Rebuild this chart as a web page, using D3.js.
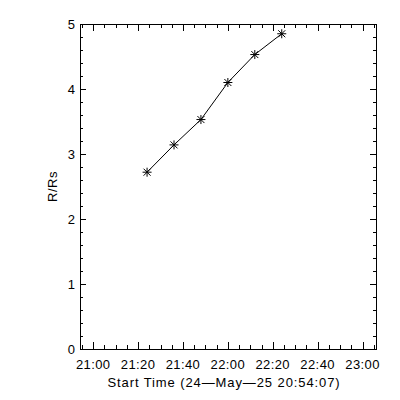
<!DOCTYPE html>
<html>
<head>
<meta charset="utf-8">
<script src="https://cdn.jsdelivr.net/npm/d3@7"></script>
<style>
  body { margin: 0; background: white; }
  text { font-family: "Liberation Sans", sans-serif; font-size: 13px; fill: black; }
</style>
</head>
<body>
<script>
// data
const times = ["21:24:00", "21:36:00", "21:48:00", "22:00:00", "22:12:00", "22:24:00"];
const heights = [2.72, 3.14, 3.53, 4.10, 4.53, 4.85];
const yTicks = [0, 1, 2, 3, 4, 5];
const xTickLabels = ["21:00", "21:20", "21:40", "22:00", "22:20", "22:40", "23:00"];
const startTime = "20:54:07";
const endTime = "23:06:00";

const w = 400, h = 400;
const padL = 80, padR = 376, padT = 24, padB = 349;
const parse = d3.timeParse("%H:%M:%S");

const svg = d3.select("body").append("svg")
    .attr("width", w)
    .attr("height", h)
    .style("background-color", "white");

const xScale = d3.scaleTime()
    .domain([parse(startTime), parse(endTime)])
    .range([padL, padR]);
const yScale = d3.scaleLinear()
    .domain([0, 5])
    .range([padB, padT]);

const majorX = xTickLabels.map(s => d3.timeParse("%H:%M")(s));
const minorX = d3.timeMinute.every(5).range(parse(startTime), parse(endTime))
    .filter(d => d.getMinutes() % 20 != 0);
const minorY = d3.range(0, 5.01, 0.2).filter(v => Math.abs(v - Math.round(v)) > 0.01);

// frame
svg.append("rect")
   .attr("x", padL + 0.5).attr("y", padT + 0.5)
   .attr("width", padR - padL).attr("height", padB - padT)
   .attr("fill", "none").attr("stroke", "black")
   .attr("shape-rendering", "crispEdges");

const ticks = svg.append("g").attr("stroke", "black").attr("shape-rendering", "crispEdges");
// x ticks, bottom and top
majorX.forEach(d => {
    const x = Math.round(xScale(d)) + 0.5;
    ticks.append("line").attr("x1", x).attr("x2", x).attr("y1", padB).attr("y2", padB - 7);
    ticks.append("line").attr("x1", x).attr("x2", x).attr("y1", padT).attr("y2", padT + 7);
});
minorX.forEach(d => {
    const x = Math.round(xScale(d)) + 0.5;
    ticks.append("line").attr("x1", x).attr("x2", x).attr("y1", padB).attr("y2", padB - 4);
    ticks.append("line").attr("x1", x).attr("x2", x).attr("y1", padT).attr("y2", padT + 4);
});
// y ticks, left and right
yTicks.forEach(v => {
    const y = Math.round(yScale(v)) + 0.5;
    ticks.append("line").attr("x1", padL).attr("x2", padL + 6).attr("y1", y).attr("y2", y);
    ticks.append("line").attr("x1", padR).attr("x2", padR - 6).attr("y1", y).attr("y2", y);
});
minorY.forEach(v => {
    const y = Math.round(yScale(v)) + 0.5;
    ticks.append("line").attr("x1", padL).attr("x2", padL + 3).attr("y1", y).attr("y2", y);
    ticks.append("line").attr("x1", padR).attr("x2", padR - 3).attr("y1", y).attr("y2", y);
});

// tick labels
svg.selectAll(".xlab")
   .data(majorX)
   .enter()
   .append("text")
   .attr("class", "xlab")
   .attr("x", d => xScale(d))
   .attr("y", 369)
   .attr("text-anchor", "middle")
   .style("letter-spacing", "0.4px")
   .text((d, i) => xTickLabels[i]);

svg.selectAll(".ylab")
   .data(yTicks)
   .enter()
   .append("text")
   .attr("class", "ylab")
   .attr("x", 75)
   .attr("y", d => yScale(d) + 4.5)
   .attr("text-anchor", "end")
   .text(d => d);

// axis titles
svg.append("text")
   .attr("x", 224)
   .attr("y", 387)
   .attr("text-anchor", "middle")
   .style("letter-spacing", "0.9px")
   .text("Start Time (24\u2014May\u201425 20:54:07)");

svg.append("text")
   .attr("transform", "translate(57," + ((padT + padB) / 2) + ") rotate(-90)")
   .attr("text-anchor", "middle")
   .style("letter-spacing", "0.5px")
   .text("R/Rs");

// line + asterisk markers
const pts = times.map((t, i) => [xScale(parse(t)), yScale(heights[i])]);
svg.append("path")
   .attr("d", d3.line()(pts))
   .attr("fill", "none")
   .attr("stroke", "black")
   .attr("stroke-width", 1);

const star = svg.append("g").attr("stroke", "black").attr("stroke-width", 1);
pts.forEach(p => {
    const r = 4.5, q = 3.5;
    star.append("line").attr("x1", p[0] - r).attr("x2", p[0] + r).attr("y1", p[1]).attr("y2", p[1]);
    star.append("line").attr("x1", p[0]).attr("x2", p[0]).attr("y1", p[1] - r).attr("y2", p[1] + r);
    star.append("line").attr("x1", p[0] - q).attr("x2", p[0] + q).attr("y1", p[1] - q).attr("y2", p[1] + q);
    star.append("line").attr("x1", p[0] - q).attr("x2", p[0] + q).attr("y1", p[1] + q).attr("y2", p[1] - q);
});
</script>
</body>
</html>
